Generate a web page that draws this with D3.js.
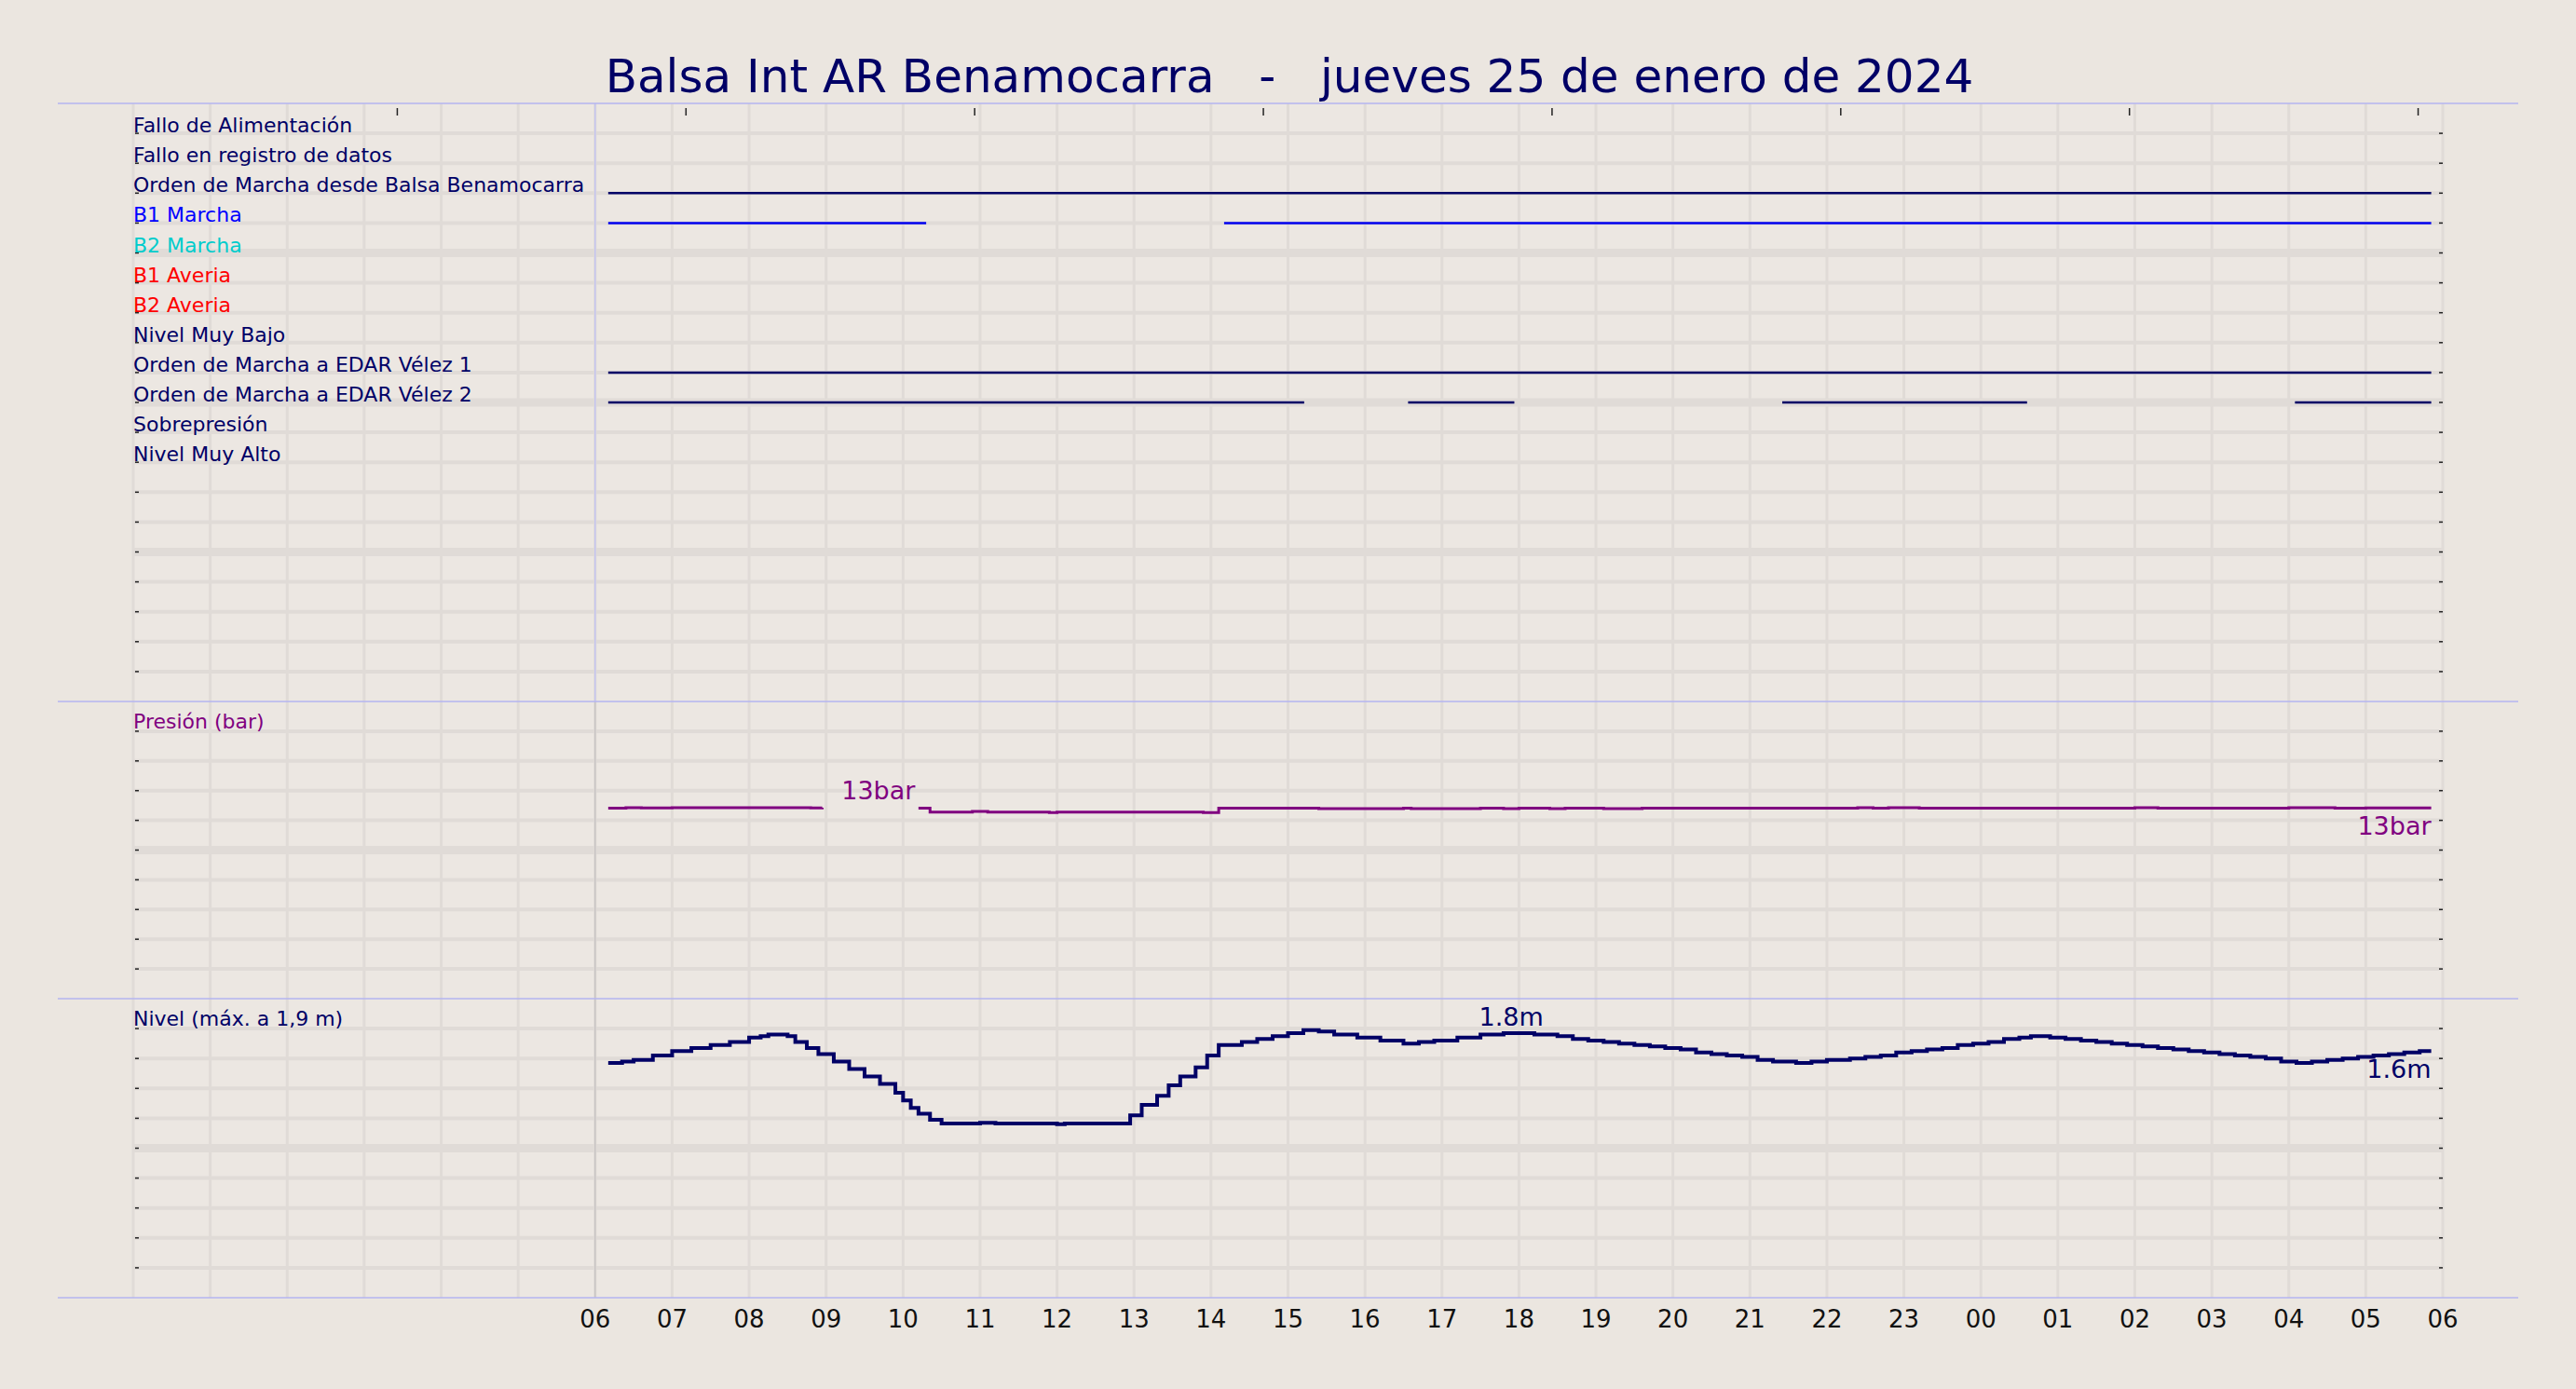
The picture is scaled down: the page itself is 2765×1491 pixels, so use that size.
<!DOCTYPE html>
<html>
<head>
<meta charset="utf-8">
<script src="https://cdn.jsdelivr.net/npm/d3@7"></script>
<style>
  html, body { margin: 0; padding: 0; background: #ebe6e0; }
  svg { display: block; font-family: "DejaVu Sans", sans-serif; }
</style>
</head>
<body>
<div id="chart"></div>
<script>
// Hours counted from 00:00 of 25 Jan; domain runs to 06:00 next day
const hourLabels = ["06","07","08","09","10","11","12","13","14","15","16","17","18","19","20","21","22","23","00","01","02","03","04","05","06"];
const topTicks = [3.43, 7.18, 10.93, 14.68, 18.43, 22.18, 25.93, 29.68];

const signalNames = ["Fallo de Alimentación", "Fallo en registro de datos", "Orden de Marcha desde Balsa Benamocarra",
  "B1 Marcha", "B2 Marcha", "B1 Averia", "B2 Averia", "Nivel Muy Bajo",
  "Orden de Marcha a EDAR Vélez 1", "Orden de Marcha a EDAR Vélez 2", "Sobrepresión", "Nivel Muy Alto"];
const signalColors = ["#000066", "#000066", "#000066", "#0000ff", "#00cccc", "#ff0000", "#ff0000", "#000066",
  "#000066", "#000066", "#000066", "#000066"];

// on-intervals [start, end] per signal row
const signalOn = [
  [], [],
  [[6.17, 29.85]],
  [[6.17, 10.3], [14.17, 29.85]],
  [], [], [], [],
  [[6.17, 29.85]],
  [[6.17, 15.21], [16.56, 17.94], [21.42, 24.6], [28.08, 29.85]],
  [], []
];

// pressure (bar), null = no data
const pressure = [
  [6.17, 12.82], [6.4, 12.86], [6.6, 12.83], [7.0, 12.86], [8.0, 12.86], [8.8, 12.83], [8.95, 12.86],
  [9.15, null], [10.2, 12.82], [10.35, 12.55], [10.9, 12.6], [11.1, 12.55], [11.9, 12.52], [12.0, 12.55],
  [13.9, 12.52], [14.1, 12.82], [15.4, 12.79], [16.5, 12.82], [16.6, 12.79], [17.5, 12.82], [17.8, 12.79],
  [18.0, 12.82], [18.4, 12.79], [18.6, 12.82], [19.1, 12.79], [19.6, 12.82], [22.4, 12.86], [22.6, 12.82],
  [22.8, 12.86], [23.2, 12.82], [26.0, 12.86], [26.3, 12.82], [28.0, 12.86], [28.6, 12.82], [29.0, 12.84], [29.85, 12.84]
];

// level (m)
const level = [
  [6.17, 1.57], [6.35, 1.58], [6.5, 1.59], [6.75, 1.62], [7.0, 1.65], [7.25, 1.67], [7.5, 1.69], [7.75, 1.71], [8.0, 1.74],
  [8.15, 1.75], [8.25, 1.76], [8.5, 1.75], [8.6, 1.71], [8.75, 1.67], [8.9, 1.63], [9.1, 1.58], [9.3, 1.53], [9.5, 1.48],
  [9.7, 1.43], [9.9, 1.37], [10.0, 1.32], [10.1, 1.27], [10.2, 1.23], [10.35, 1.19], [10.5, 1.165], [11.0, 1.17],
  [11.2, 1.165], [12.0, 1.16], [12.1, 1.165], [12.95, 1.22], [13.1, 1.29], [13.3, 1.35], [13.45, 1.42],
  [13.6, 1.48], [13.8, 1.54], [13.95, 1.62], [14.1, 1.69], [14.4, 1.71], [14.6, 1.73], [14.8, 1.75],
  [15.0, 1.77], [15.2, 1.79], [15.4, 1.78], [15.6, 1.76], [15.9, 1.74], [16.2, 1.72], [16.5, 1.70],
  [16.7, 1.71], [16.9, 1.72], [17.2, 1.74], [17.5, 1.76], [17.8, 1.77], [18.2, 1.76], [18.5, 1.75],
  [18.7, 1.73], [18.9, 1.72], [19.1, 1.71], [19.3, 1.70], [19.5, 1.69], [19.7, 1.68], [19.9, 1.67], [20.1, 1.66],
  [20.3, 1.64], [20.5, 1.63], [20.7, 1.62], [20.9, 1.61], [21.1, 1.59], [21.3, 1.58], [21.6, 1.57],
  [21.8, 1.58], [22.0, 1.59], [22.3, 1.60], [22.5, 1.61], [22.7, 1.62], [22.9, 1.64], [23.1, 1.65], [23.3, 1.66],
  [23.5, 1.67], [23.7, 1.69], [23.9, 1.70], [24.1, 1.71], [24.3, 1.73], [24.5, 1.74], [24.65, 1.75],
  [24.9, 1.74], [25.1, 1.73], [25.3, 1.72], [25.5, 1.71], [25.7, 1.70], [25.9, 1.69], [26.1, 1.68], [26.3, 1.67],
  [26.5, 1.66], [26.7, 1.65], [26.9, 1.64], [27.1, 1.63], [27.3, 1.62], [27.5, 1.61], [27.7, 1.60], [27.9, 1.58],
  [28.1, 1.57], [28.3, 1.58], [28.5, 1.59], [28.7, 1.60], [28.9, 1.61], [29.1, 1.62], [29.3, 1.63],
  [29.5, 1.64], [29.7, 1.65], [29.85, 1.65]
];

const W = 2765, H = 1491;
const left = 143, right = 2622;
const sepX0 = 62, sepX1 = 2703;
const panels = [
  { top: 111, bottom: 753, rows: 20 },
  { top: 753, bottom: 1072, rows: 10 },
  { top: 1072, bottom: 1393, rows: 10 }
];
const navy = "#000066", purple = "#800080";
const gridColor = "#e0dbd7";

const svg = d3.select("#chart").append("svg").attr("width", W).attr("height", H);
svg.append("rect").attr("width", W).attr("height", H).attr("fill", "#ebe6e0");

const x = d3.scaleLinear().domain([0, 30]).range([left, right]);

// title
svg.append("text")
  .attr("x", 1384).attr("y", 99)
  .attr("text-anchor", "middle")
  .attr("font-size", 50).attr("fill", navy)
  .style("white-space", "pre")
  .text("Balsa Int AR Benamocarra   -   jueves 25 de enero de 2024");

// panel backgrounds + grids
panels.forEach((p, pi) => {
  const g = svg.append("g");
  const rowH = (p.bottom - p.top) / p.rows;
  g.append("rect").attr("x", left).attr("y", p.top).attr("width", right - left).attr("height", p.bottom - p.top)
    .attr("fill", "#ece7e2");
  g.selectAll(".vg").data(d3.range(0, 31)).enter().append("line")
    .attr("x1", d => x(d)).attr("x2", d => x(d))
    .attr("y1", p.top).attr("y2", p.bottom)
    .attr("stroke", gridColor).attr("stroke-width", 3);
  g.selectAll(".hg").data(d3.range(1, p.rows)).enter().append("line")
    .attr("x1", left).attr("x2", right)
    .attr("y1", d => p.top + d * rowH).attr("y2", d => p.top + d * rowH)
    .attr("stroke", gridColor).attr("stroke-width", d => (d % 5 === 0 ? 9 : 4));
  g.selectAll(".tl").data(d3.range(1, p.rows)).enter().append("line")
    .attr("x1", left + 2).attr("x2", left + 6)
    .attr("y1", d => p.top + d * rowH).attr("y2", d => p.top + d * rowH)
    .attr("stroke", "#222").attr("stroke-width", 1.5);
  g.selectAll(".tr").data(d3.range(1, p.rows)).enter().append("line")
    .attr("x1", right - 4).attr("x2", right)
    .attr("y1", d => p.top + d * rowH).attr("y2", d => p.top + d * rowH)
    .attr("stroke", "#222").attr("stroke-width", 1.5);
  g.append("line")
    .attr("x1", x(6)).attr("x2", x(6)).attr("y1", p.top).attr("y2", p.bottom)
    .attr("stroke", pi === 0 ? "#c4c4f0" : "#c8c4c4").attr("stroke-width", 1.5);
});

// top ticks
svg.selectAll(".tt").data(topTicks).enter().append("line")
  .attr("x1", d => x(d)).attr("x2", d => x(d))
  .attr("y1", 116).attr("y2", 124)
  .attr("stroke", "#222").attr("stroke-width", 1.5);

// separators
[111, 753, 1072, 1393].forEach(y => {
  svg.append("line").attr("x1", sepX0).attr("x2", sepX1).attr("y1", y).attr("y2", y)
    .attr("stroke", "#b4b4f0").attr("stroke-width", 1.5);
});

// ---- panel 1: digital signals ----
const p1 = panels[0];
const rowY = d3.scaleLinear().domain([0, p1.rows]).range([p1.top, p1.bottom]);
signalNames.forEach((name, i) => {
  svg.append("text")
    .attr("x", left).attr("y", rowY(i + 1) - 1)
    .attr("font-size", 22).attr("fill", signalColors[i])
    .text(name);
  signalOn[i].forEach(seg => {
    svg.append("line")
      .attr("x1", x(seg[0])).attr("x2", x(seg[1]))
      .attr("y1", rowY(i + 1)).attr("y2", rowY(i + 1))
      .attr("stroke", i === 3 ? "#0000ee" : navy).attr("stroke-width", 2.5);
  });
});

// ---- panel 2: pressure ----
const p2 = panels[1];
const yP = d3.scaleLinear().domain([0, 20]).range([p2.bottom, p2.top]);
svg.append("text").attr("x", left).attr("y", p2.top + 29)
  .attr("font-size", 22).attr("fill", purple).text("Presión (bar)");
svg.append("path")
  .datum(pressure)
  .attr("fill", "none").attr("stroke", purple).attr("stroke-width", 3)
  .attr("d", d3.line().defined(d => d[1] !== null).curve(d3.curveStepAfter)
    .x(d => x(d[0])).y(d => yP(d[1])));
svg.append("text").attr("x", x(9.2)).attr("y", yP(12.86) - 9)
  .attr("font-size", 27).attr("fill", purple).text("13bar");
svg.append("text").attr("x", x(29.85)).attr("y", yP(12.84) + 29)
  .attr("text-anchor", "end").attr("font-size", 27).attr("fill", purple).text("13bar");

// ---- panel 3: level ----
const p3 = panels[2];
const yL = d3.scaleLinear().domain([0, 2]).range([p3.bottom, p3.top]);
svg.append("text").attr("x", left).attr("y", p3.top + 29)
  .attr("font-size", 22).attr("fill", navy).text("Nivel (máx. a 1,9 m)");
svg.append("path")
  .datum(level)
  .attr("fill", "none").attr("stroke", navy).attr("stroke-width", 4)
  .attr("d", d3.line().curve(d3.curveStepAfter).x(d => x(d[0])).y(d => yL(d[1])));
svg.append("text").attr("x", x(17.9)).attr("y", yL(1.77) - 8)
  .attr("text-anchor", "middle").attr("font-size", 27).attr("fill", navy).text("1.8m");
svg.append("text").attr("x", x(29.85)).attr("y", yL(1.65) + 29)
  .attr("text-anchor", "end").attr("font-size", 27).attr("fill", navy).text("1.6m");

// ---- x axis labels ----
svg.selectAll(".xl").data(hourLabels).enter().append("text")
  .attr("x", (d, i) => x(6 + i)).attr("y", 1425)
  .attr("text-anchor", "middle").attr("font-size", 26).attr("fill", "#111")
  .text(d => d);
</script>
</body>
</html>
